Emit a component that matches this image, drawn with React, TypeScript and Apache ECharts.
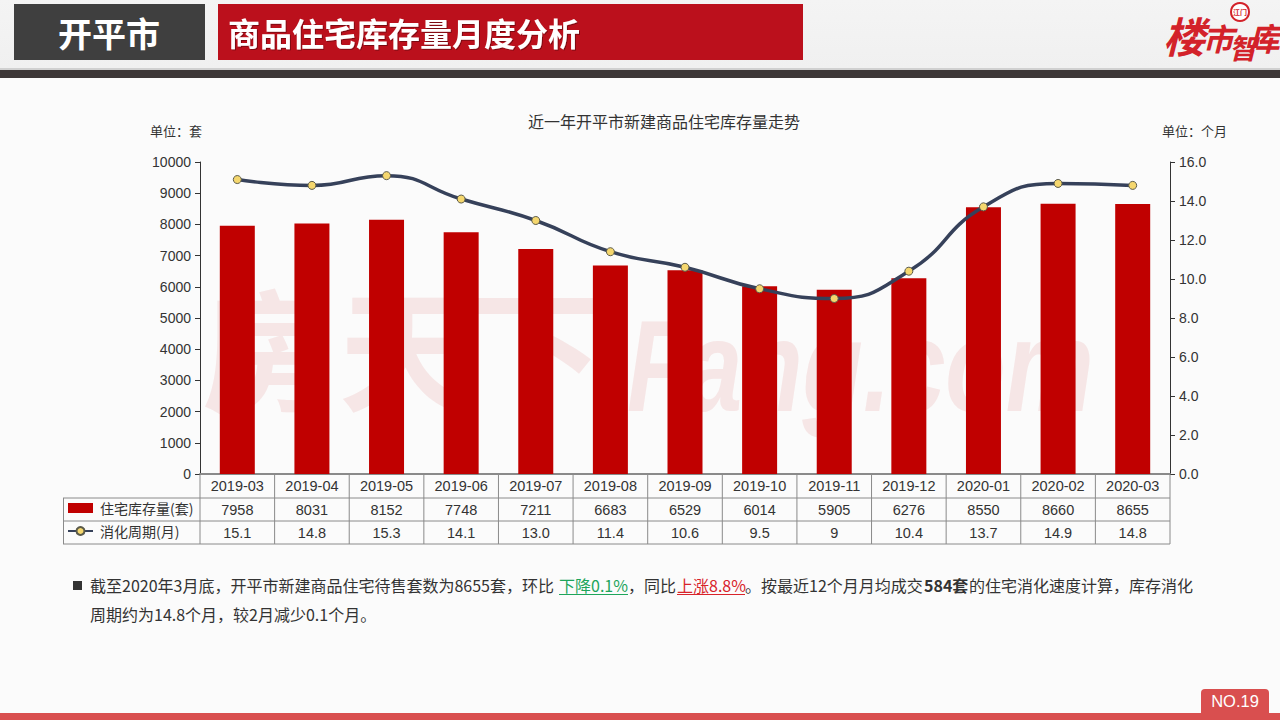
import React, { useEffect, useRef } from "react";
import * as echarts from "echarts";

const months = ["2019-03","2019-04","2019-05","2019-06","2019-07","2019-08","2019-09","2019-10","2019-11","2019-12","2020-01","2020-02","2020-03"];
const stock = [7958,8031,8152,7748,7211,6683,6529,6014,5905,6276,8550,8660,8655];
const cycle = [15.1,14.8,15.3,14.1,13.0,11.4,10.6,9.5,9,10.4,13.7,14.9,14.8];
const cycleLabels = ["15.1","14.8","15.3","14.1","13.0","11.4","10.6","9.5","9","10.4","13.7","14.9","14.8"];
const stockName = "住宅库存量(套)";
const cycleName = "消化周期(月)";

const CJK = '"Liberation Sans","Noto Sans CJK SC",sans-serif';
const BODY = '"Noto Sans CJK SC","Liberation Sans",sans-serif';
const G = { l: 200, r: 1170, t: 162, b: 474 };
const rowY = [498, 521, 544];
const cellW = (G.r - G.l) / months.length;
const GRID = "#8a8a8a";
const WM = "#f6e6e6";
const LOGO = "#d3222a";

const txt = (text: string, x: number, y: number, fontSize: number, fill: string, extra: any = {}) => ({
  type: "text", x, y, z: 5,
  style: { text, fontSize, fill, fontFamily: BODY, textVerticalAlign: "middle", ...extra },
});
const rect = (x: number, y: number, width: number, height: number, fill: any, z = 0, r: any = 0) => ({
  type: "rect", z, shape: { x, y, width, height, r }, style: { fill },
});
const line = (x1: number, y1: number, x2: number, y2: number, stroke: string, lineWidth = 1, z = 3) => ({
  type: "line", z, shape: { x1, y1, x2, y2 }, style: { stroke, lineWidth },
});
const logoChar = (text: string, x: number, y: number, fontSize: number) =>
  txt(text, x, y, fontSize, LOGO, { fontWeight: "bold", fontStyle: "italic", textAlign: "center" });
const wmChar = (text: string, x: number, y: number) => ({
  type: "text", x, y, z: 0,
  style: { text, fontSize: 132, fontWeight: "bold", fill: WM, fontFamily: BODY, textAlign: "center", textVerticalAlign: "middle" },
});

const graphics: any[] = [
  rect(0, 0, 1280, 68, new echarts.graphic.LinearGradient(0, 0, 0, 1, [{ offset: 0, color: "#f4f4f4" }, { offset: 1, color: "#f0f0f0" }])),
  rect(0, 68, 1280, 2, "#d0d0d0"),
  rect(0, 70, 1280, 8, "#3d3737"),
  rect(14, 4, 191, 56, "#3f3f3f"),
  rect(218, 4, 585, 56, "#bb101c"),
  txt("开平市", 109, 32, 34, "#ffffff", { fontWeight: "bold", textAlign: "center" }),
  txt("商品住宅库存量月度分析", 228, 32, 32, "#ffffff", { fontWeight: "bold", textShadowColor: "rgba(0,0,0,.35)", textShadowBlur: 1, textShadowOffsetX: 1, textShadowOffsetY: 1 }),
  // logo
  logoChar("楼", 1184, 34, 42),
  logoChar("市", 1218, 37, 31),
  logoChar("智", 1243, 47, 28),
  logoChar("库", 1264, 37, 32),
  { type: "circle", z: 5, shape: { cx: 1240, cy: 12, r: 9 }, style: { fill: "#fff", stroke: LOGO, lineWidth: 2 } },
  txt("江门", 1240, 12, 7, LOGO, { textAlign: "center", fontWeight: "bold" }),
  // watermark
  wmChar("房", 268, 343),
  wmChar("天", 405, 343),
  wmChar("下", 537, 343),
  { type: "text", x: 627, y: 365, z: 0, scaleX: 0.76, style: { text: "Fang.com", fontSize: 130, fontWeight: "bold", fontStyle: "italic", fill: WM, fontFamily: '"Liberation Sans",sans-serif', textVerticalAlign: "middle" } },
  // units
  txt("单位：套", 150, 130, 13, "#333333"),
  txt("单位：个月", 1162, 130, 13, "#333333"),
  // table
  ...rowY.map((y) => line(63, y, G.r, y, GRID)),
  line(63.5, rowY[0], 63.5, rowY[2], GRID),
  line(G.r, G.b, G.r, rowY[2], GRID),
  ...months.map((_, i) => line(G.l + i * cellW, G.b, G.l + i * cellW, rowY[2], GRID)),
  ...stock.map((v, i) => txt(String(v), G.l + (i + 0.5) * cellW, 510, 14.5, "#333333", { textAlign: "center", fontFamily: CJK })),
  ...cycleLabels.map((v, i) => txt(v, G.l + (i + 0.5) * cellW, 533, 14.5, "#333333", { textAlign: "center", fontFamily: CJK })),
  // paragraph
  rect(73, 581, 9, 9, "#333333", 5),
  txt("截至2020年3月底，开平市新建商品住宅待售套数为8655套，环比", 90, 585, 16, "#333333"),
  txt("下降0.1%", 559, 585, 16, "#1ea55b"),
  line(559, 594.5, 628, 594.5, "#1ea55b"),
  txt("，同比", 628, 585, 16, "#333333"),
  txt("上涨8.8%", 677, 585, 16, "#d8232a"),
  line(677, 594.5, 745, 594.5, "#d8232a"),
  txt("。按最近12个月月均成交", 745, 585, 16, "#333333"),
  txt("584套", 924, 585, 16, "#333333", { fontWeight: "bold" }),
  txt("的住宅消化速度计算，库存消化", 969, 585, 16, "#333333"),
  txt("周期约为14.8个月，较2月减少0.1个月。", 90, 614, 16, "#333333"),
  // footer
  rect(0, 713, 1280, 7, "#d94f4f"),
  rect(1201, 689, 68, 31, "#d94f4f", 1, [4, 4, 0, 0]),
  txt("NO.19", 1235, 701, 16.5, "#ffffff", { textAlign: "center", fontFamily: CJK }),
];

const option: any = {
  animation: false,
  backgroundColor: "#fbfbfb",
  textStyle: { fontFamily: CJK },
  title: {
    text: "近一年开平市新建商品住宅库存量走势",
    left: 659, top: 108, textAlign: "center",
    textStyle: { fontSize: 16, fontWeight: "normal", color: "#333333", fontFamily: BODY },
  },
  grid: { left: G.l, right: 1280 - G.r, top: G.t, bottom: 720 - G.b },
  legend: {
    orient: "vertical", left: 67, top: 501, itemWidth: 25, itemHeight: 10, itemGap: 9, padding: 0,
    textStyle: { fontSize: 14, color: "#333333", fontFamily: BODY, padding: [0, 0, 0, 2] },
    data: [{ name: stockName, icon: "rect" }, { name: cycleName }],
  },
  xAxis: {
    type: "category", data: months,
    axisLine: { lineStyle: { color: GRID, width: 2 } },
    axisTick: { show: false },
    axisLabel: { fontSize: 14.5, color: "#333333", margin: 5, interval: 0 },
  },
  yAxis: [
    {
      type: "value", min: 0, max: 10000, interval: 1000,
      splitLine: { show: false },
      axisLine: { show: true, lineStyle: { color: "#333333" } },
      axisTick: { show: true, length: 5, lineStyle: { color: "#333333" } },
      axisLabel: { fontSize: 14, color: "#333333", margin: 9, formatter: (v: number) => String(v) },
    },
    {
      type: "value", min: 0, max: 16, interval: 2,
      splitLine: { show: false },
      axisLine: { show: true, lineStyle: { color: "#333333" } },
      axisTick: { show: true, length: 5, lineStyle: { color: "#333333" } },
      axisLabel: { fontSize: 14, color: "#333333", margin: 9, formatter: (v: number) => v.toFixed(1) },
    },
  ],
  series: [
    { name: stockName, type: "bar", data: stock, barWidth: 35, itemStyle: { color: "#c00000" } },
    {
      name: cycleName, type: "line", yAxisIndex: 1, data: cycle, smooth: true,
      symbol: "circle", symbolSize: 8,
      lineStyle: { color: "#36415a", width: 3.5 },
      itemStyle: { color: "#f5d76e", borderColor: "#5a5a4a", borderWidth: 1 },
    },
  ],
  graphic: { elements: graphics },
};

export default function App() {
  const ref = useRef<HTMLDivElement>(null);
  useEffect(() => {
    document.body.style.margin = "0";
    const chart = echarts.init(ref.current!, undefined, { renderer: "svg" });
    chart.setOption(option);
    return () => chart.dispose();
  }, []);
  return <div ref={ref} style={{ width: 1280, height: 720 }} />;
}
